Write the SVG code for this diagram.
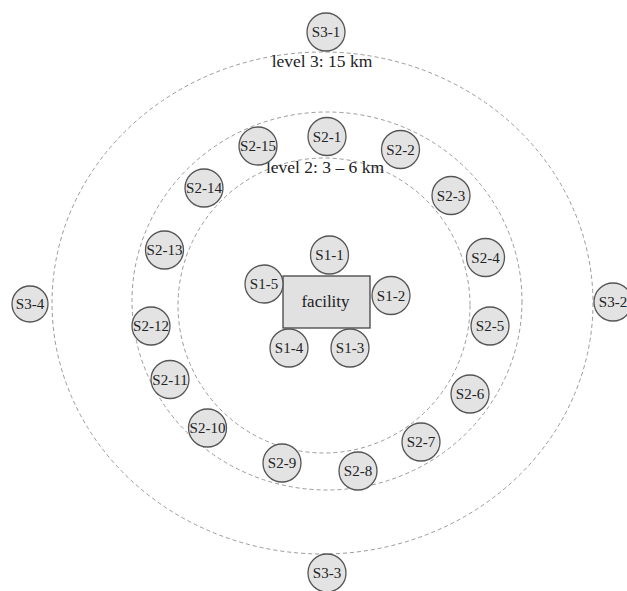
<svg xmlns="http://www.w3.org/2000/svg" width="627" height="591" viewBox="0 0 627 591">
<style>
.ring{fill:none;stroke:#9a9a9a;stroke-width:1;stroke-dasharray:4 3}
.n circle{fill:#e3e3e3;stroke:#555;stroke-width:1.3}
.n text,.lbl,.fac text{font-family:"Liberation Serif","Times New Roman",serif;fill:#222;text-anchor:middle}
.n text{font-size:15px}
.lbl{font-size:17.5px}
.fac rect{fill:#e1e1e1;stroke:#444;stroke-width:1.3}
.fac text{font-size:17px}
</style>
<rect width="627" height="591" fill="#fff"/>
<g id="connectors">
<ellipse class="ring" cx="322.5" cy="303" rx="270.5" ry="251"/>
<ellipse class="ring" cx="327" cy="301" rx="195" ry="189"/>
<ellipse class="ring" cx="324" cy="305.5" rx="146" ry="147.5"/>
</g>
<text class="lbl" x="322" y="67">level 3: 15 km</text>
<text class="lbl" x="325" y="173">level 2: 3 – 6 km</text>
<g id="facility" class="fac"><rect x="283" y="276" width="87" height="52"/><text x="325.5" y="307">facility</text></g>
<g id="S1-1" class="n"><circle cx="329.5" cy="255" r="19"/><text x="329.5" y="260">S1-1</text></g>
<g id="S1-2" class="n"><circle cx="391" cy="295.5" r="19"/><text x="391" y="300.5">S1-2</text></g>
<g id="S1-3" class="n"><circle cx="350" cy="348" r="19"/><text x="350" y="353">S1-3</text></g>
<g id="S1-4" class="n"><circle cx="289" cy="348" r="19"/><text x="289" y="353">S1-4</text></g>
<g id="S1-5" class="n"><circle cx="264" cy="284" r="19"/><text x="264" y="289">S1-5</text></g>
<g id="S2-1" class="n"><circle cx="327" cy="136.5" r="19"/><text x="327" y="141.5">S2-1</text></g>
<g id="S2-2" class="n"><circle cx="400.5" cy="149.5" r="19"/><text x="400.5" y="154.5">S2-2</text></g>
<g id="S2-3" class="n"><circle cx="451" cy="195.5" r="19"/><text x="451" y="200.5">S2-3</text></g>
<g id="S2-4" class="n"><circle cx="485.5" cy="257.5" r="19"/><text x="485.5" y="262.5">S2-4</text></g>
<g id="S2-5" class="n"><circle cx="490" cy="326" r="19"/><text x="490" y="331">S2-5</text></g>
<g id="S2-6" class="n"><circle cx="470" cy="394" r="19"/><text x="470" y="399">S2-6</text></g>
<g id="S2-7" class="n"><circle cx="421" cy="442" r="19"/><text x="421" y="447">S2-7</text></g>
<g id="S2-8" class="n"><circle cx="358" cy="471" r="19"/><text x="358" y="476">S2-8</text></g>
<g id="S2-9" class="n"><circle cx="282" cy="463" r="19"/><text x="282" y="468">S2-9</text></g>
<g id="S2-10" class="n"><circle cx="207.5" cy="428" r="19"/><text x="207.5" y="433">S2-10</text></g>
<g id="S2-11" class="n"><circle cx="170" cy="379.5" r="19"/><text x="170" y="384.5">S2-11</text></g>
<g id="S2-12" class="n"><circle cx="151" cy="326" r="19"/><text x="151" y="331">S2-12</text></g>
<g id="S2-13" class="n"><circle cx="164.5" cy="250" r="19"/><text x="164.5" y="255">S2-13</text></g>
<g id="S2-14" class="n"><circle cx="204" cy="188" r="19"/><text x="204" y="193">S2-14</text></g>
<g id="S2-15" class="n"><circle cx="258" cy="146" r="19"/><text x="258" y="151">S2-15</text></g>
<g id="S3-1" class="n"><circle cx="326" cy="32" r="19"/><text x="326" y="37">S3-1</text></g>
<g id="S3-2" class="n"><circle cx="613" cy="302" r="19"/><text x="613" y="307">S3-2</text></g>
<g id="S3-3" class="n"><circle cx="327" cy="573" r="19"/><text x="327" y="578">S3-3</text></g>
<g id="S3-4" class="n"><circle cx="30" cy="304" r="18"/><text x="30" y="309">S3-4</text></g>
</svg>
